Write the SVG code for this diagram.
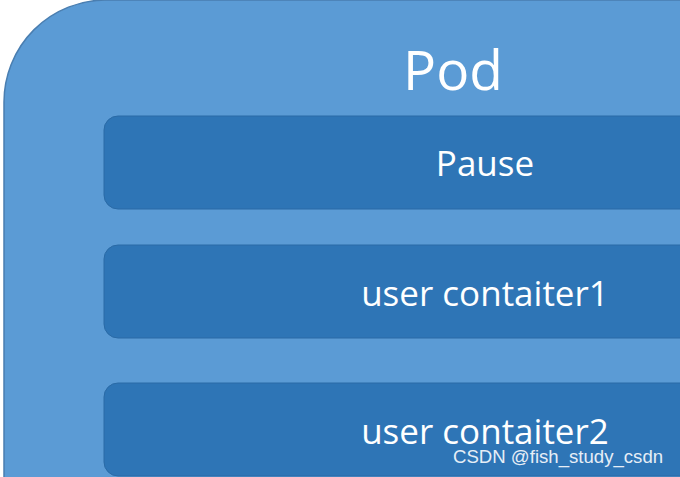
<svg xmlns="http://www.w3.org/2000/svg" width="680" height="477" viewBox="0 0 680 477">
<style>
.inner{fill:#2E75B6;stroke:#2A6AA6;stroke-width:1}
.t{font-family:"Open Sans","Noto Sans","Liberation Sans",sans-serif;fill:#FFFFFF;text-anchor:middle}
</style>
<rect width="680" height="477" fill="#FFFFFF"/>
<g id="pod">
<rect x="4" y="0" width="780" height="600" rx="102" ry="102" fill="#5B9BD5" stroke="#4A7EB0" stroke-width="1.5"/>
<text class="t" x="453" y="90" font-size="55">Pod</text>
</g>
<g id="pause">
<rect class="inner" x="104" y="116" width="620" height="93" rx="14"/>
<text class="t" x="485" y="176" font-size="35">Pause</text>
</g>
<g id="container1">
<rect class="inner" x="104" y="245" width="620" height="93" rx="14"/>
<text class="t" x="485" y="306" font-size="35">user contaiter1</text>
</g>
<g id="container2">
<rect class="inner" x="104" y="383" width="620" height="93" rx="14"/>
<text class="t" x="485" y="444" font-size="35">user contaiter2</text>
</g>
<g id="connectors"/>
<text x="453" y="463" font-family="Liberation Sans,Arial,sans-serif" font-size="18.6" fill="#E6EEF6">CSDN @fish_study_csdn</text>
</svg>
